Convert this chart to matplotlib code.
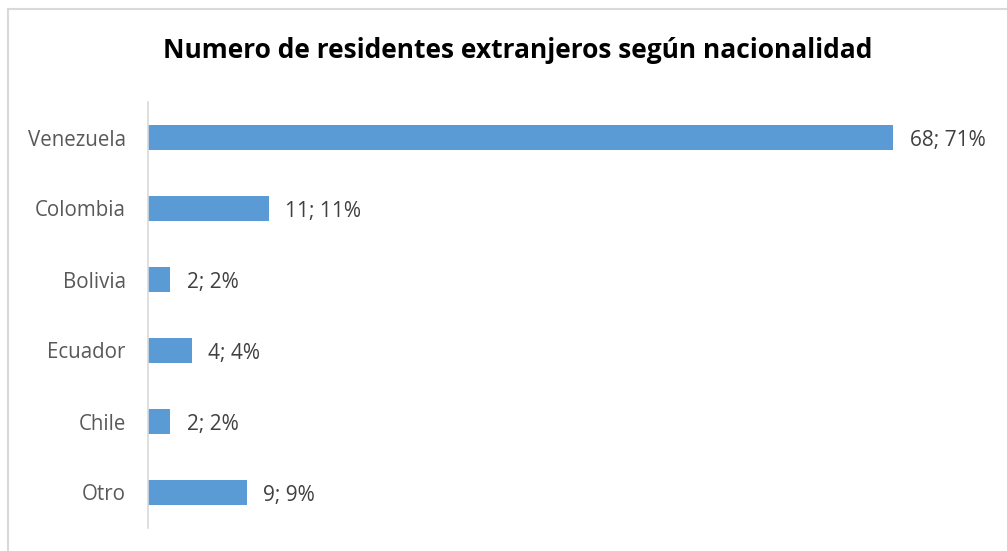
import matplotlib.pyplot as plt
from matplotlib.patches import Rectangle

# data
paises = ["Venezuela", "Colombia", "Bolivia", "Ecuador", "Chile", "Otro"]
residentes = [68, 11, 2, 4, 2, 9]
porcentajes = [71, 11, 2, 4, 2, 9]

plt.rcParams['font.family'] = ['Open Sans', 'DejaVu Sans']

fig = plt.figure(figsize=(10.07, 5.51), dpi=100)
ax = fig.add_axes([148 / 1007, 1 - 528 / 551, (980 - 148) / 1007, 426 / 551])

pos = list(range(len(paises)))
ax.barh(pos, residentes, height=0.35, color='#5B9BD5')
ax.set_ylim(len(paises) - 0.5, -0.5)
ax.set_xlim(0, 832 / (745 / 68))

for p, v, pc in zip(pos, residentes, porcentajes):
    ax.annotate(f"{v}; {pc}%", (v, p), xytext=(12, -2), textcoords='offset points',
                va='center', ha='left', fontsize=15, color='#404040')

ax.set_yticks(pos)
ax.set_yticklabels(paises, fontsize=14.8, color='#595959')
ax.tick_params(axis='y', length=0, pad=16)
ax.set_xticks([])
for s in ['top', 'right', 'bottom']:
    ax.spines[s].set_visible(False)
ax.spines['left'].set_color('#d9d9d9')
ax.spines['left'].set_linewidth(1.2)

fig.text(518 / 1007, 1 - 50 / 551, "Numero de residentes extranjeros según nacionalidad",
         ha='center', va='center', fontsize=19, fontweight='bold', color='black')

fig.patches.append(Rectangle((8 / 1007, -0.1), 1.2, 1 - 9 / 551 + 0.1,
                             transform=fig.transFigure, fill=False,
                             edgecolor='#d9d9d9', linewidth=1.5))

fig.savefig("out.png", dpi=100)
